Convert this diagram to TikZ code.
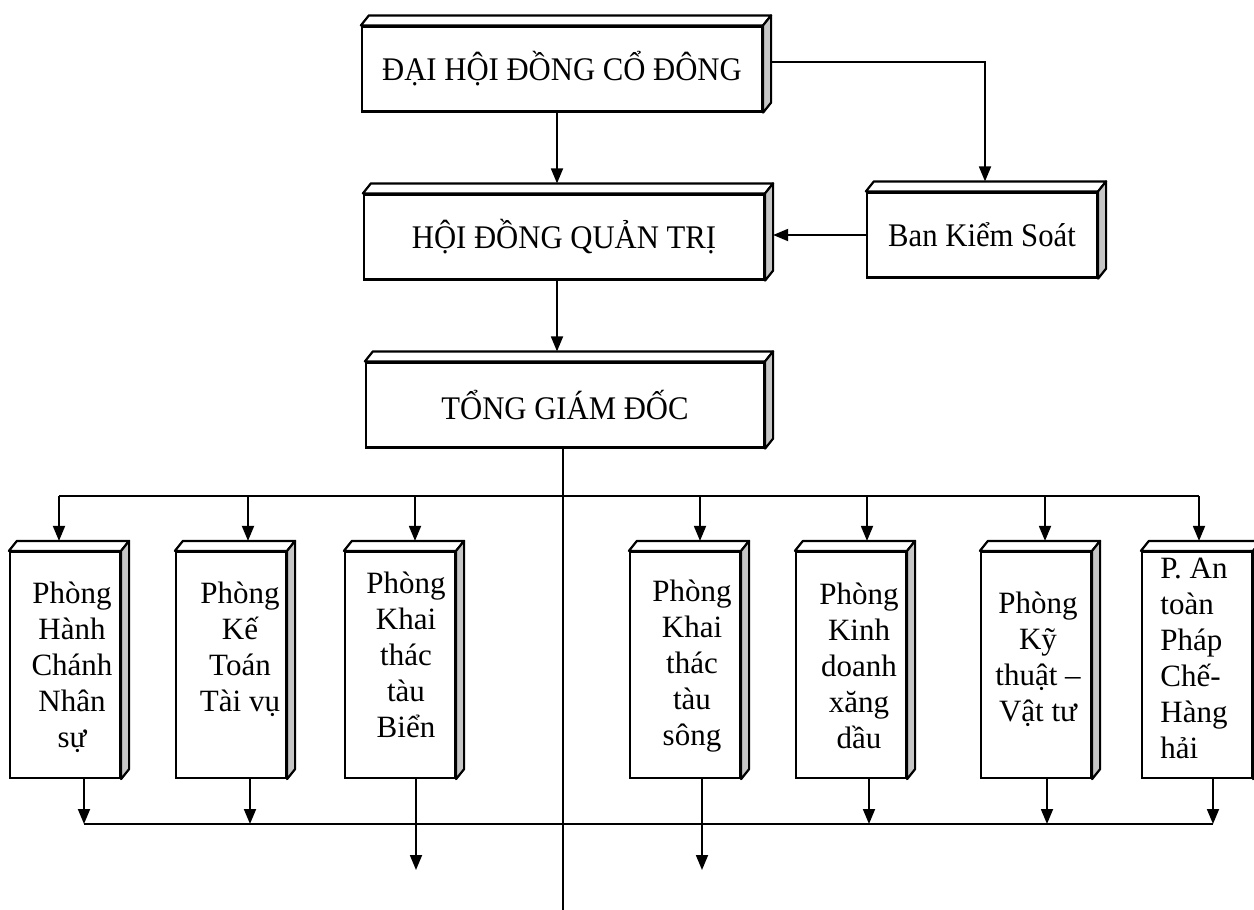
\documentclass[tikz,border=0pt]{standalone}
\usepackage{fontspec}
\setmainfont{Liberation Serif}
\newfontfamily\topfont[FakeStretch=0.93]{Liberation Serif}
\usetikzlibrary{arrows.meta,calc}
\begin{document}
\begin{tikzpicture}[x=0.5pt,y=-0.5pt,
  bigbox/.style={draw,line width=1.1pt,fill=white,minimum width=200pt,minimum height=42.5pt,inner sep=0pt,font=\topfont\fontsize{16.5}{19}\selectfont},
  smallbox/.style={draw,line width=1.1pt,fill=white,minimum width=55pt,minimum height=113pt,inner sep=0pt},
  boxtext/.style={inner sep=0pt,align=center,font=\fontsize{15.5}{18}\selectfont},
  arr/.style={line width=0.9pt,-{Triangle[length=7.5pt,width=6pt]}},
  conn/.style={line width=0.9pt},
  topface/.style={line width=1.1pt,line join=round,fill=white},
  sideface/.style={line width=1.1pt,line join=round,fill=gray!45}]
\fill[white] (0,0) rectangle (1254,910);
\useasboundingbox (0,0) rectangle (1254,910);

% top-level boxes
\node[bigbox] (dh) at (562,69) {ĐẠI HỘI ĐỒNG CỔ ĐÔNG};
\node[bigbox] (hd) at (564,237) {HỘI ĐỒNG QUẢN TRỊ};
\node[bigbox,minimum width=115pt] (bks) at (982,235) {Ban Kiểm Soát};
\node[bigbox,minimum width=199pt] (tgd) at (565,405) {TỔNG GIÁM ĐỐC};

% departments (frames)
\node[smallbox] (p1) at (65,665) {};
\node[smallbox] (p2) at (231,665) {};
\node[smallbox] (p3) at (400,665) {};
\node[smallbox] (p4) at (685,665) {};
\node[smallbox] (p5) at (851,665) {};
\node[smallbox] (p6) at (1036,665) {};
\node[smallbox] (p7) at (1197,665) {};

% department texts
\node[boxtext] (t1) at (72,667) {Phòng\\Hành\\Chánh\\Nhân\\sự};
\node[boxtext] (t2) at (240,649) {Phòng\\Kế\\Toán\\Tài vụ};
\node[boxtext] (t3) at (406,655) {Phòng\\Khai\\thác\\tàu\\Biển};
\node[boxtext] (t4) at (692,666) {Phòng\\Khai\\thác\\tàu\\sông};
\node[boxtext] (t5) at (859,666) {Phòng\\Kinh\\doanh\\xăng\\dầu};
\node[boxtext] (t6) at (1038,659) {Phòng\\Kỹ\\thuật –\\Vật tư};
\node[boxtext,align=left,anchor=west] (t7) at (1160,658) {P. An\\toàn\\Pháp\\Chế-\\Hàng\\hải};

% 3D faces
\foreach \n in {dh,hd,bks,tgd,p1,p2,p3,p4,p5,p6,p7}{
  \draw[topface] (\n.north west) -- ++(8,-10) -- ($(\n.north east)+(8,-10)$) -- (\n.north east) -- cycle;
  \draw[sideface] (\n.north east) -- ++(8,-10) -- ($(\n.south east)+(8,-10)$) -- (\n.south east) -- cycle;
}

% upper connectors
\draw[arr] ([xshift=-2.5pt]dh.south) -- ([xshift=-2.5pt,yshift=5pt]dh.south |- hd.north);
\draw[arr] ([xshift=4pt,yshift=3.5pt]dh.east) -| ([xshift=1.5pt,yshift=5pt]bks.north);
\draw[arr] (bks.west) -- ([xshift=4pt]hd.east |- bks.west);
\draw[arr] ([xshift=-3.5pt]hd.south) -- ([xshift=-3.5pt,yshift=5pt]hd.south |- tgd.north);
\coordinate (tend) at (563,910);
\draw[conn] (tend |- tgd.south) -- (tend);

% top bus
\coordinate (b1) at (59,496);
\coordinate (b2) at (248,496);
\coordinate (b3) at (415,496);
\coordinate (b4) at (700,496);
\coordinate (b5) at (867,496);
\coordinate (b6) at (1045,496);
\coordinate (b7) at (1199,496);
\draw[conn] (b1) -- (b7);
\foreach \i in {1,...,7}{
  \draw[arr] (b\i) -- ([yshift=5pt]b\i |- p\i.north);
}

% bottom bus
\coordinate (c1) at (84,824);
\coordinate (c2) at (250,824);
\coordinate (c5) at (869,824);
\coordinate (c6) at (1047,824);
\coordinate (c7) at (1213,824);
\draw[conn] (c1) -- (c7);
\foreach \i in {1,2,5,6,7}{
  \draw[arr] (c\i |- p\i.south) -- (c\i);
}
\coordinate (d3) at (416,870);
\coordinate (d4) at (702,870);
\draw[arr] (d3 |- p3.south) -- (d3);
\draw[arr] (d4 |- p4.south) -- (d4);
\end{tikzpicture}
\end{document}
